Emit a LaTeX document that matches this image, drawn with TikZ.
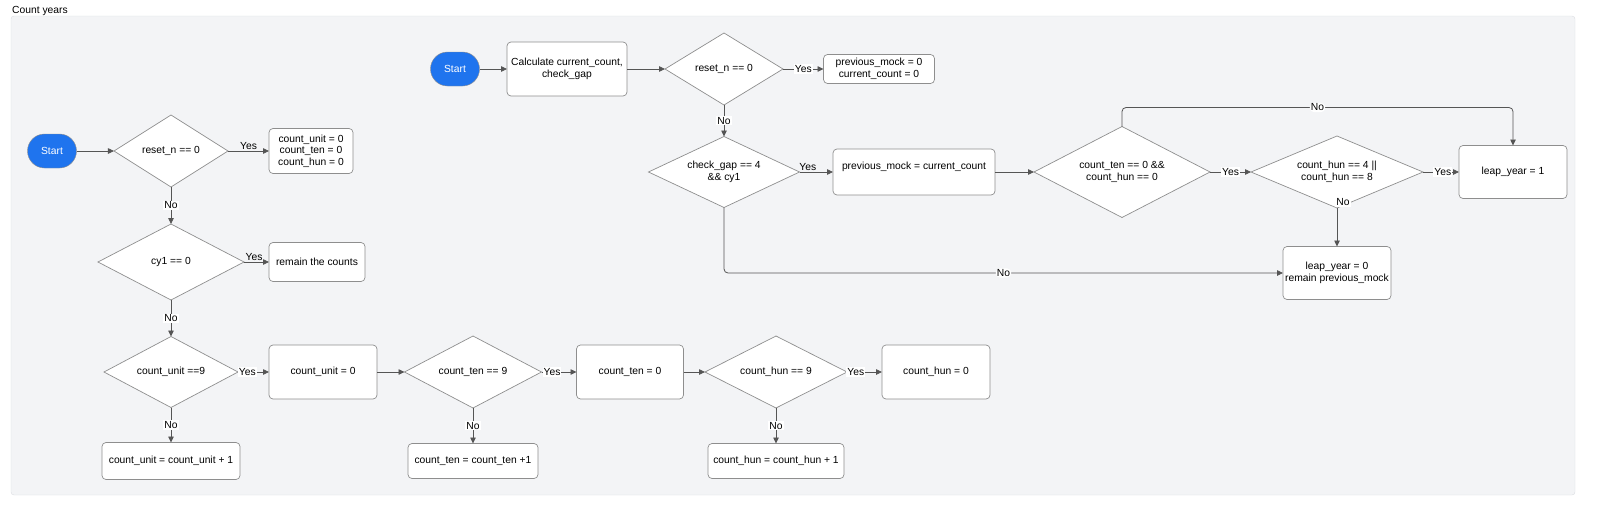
\documentclass[tikz,border=0pt]{standalone}
\usepackage{fontspec}
\setmainfont{Liberation Sans}
\usepackage{xcolor}
\usepackage{tikz}
\usetikzlibrary{shapes.geometric, arrows.meta, positioning, calc}
\definecolor{startblue}{HTML}{1F74EE}
\definecolor{boxborder}{HTML}{8E8E8E}
\definecolor{linegray}{HTML}{555555}
\definecolor{panelfill}{HTML}{F3F4F6}
\definecolor{panelborder}{HTML}{DADDE1}
\tikzstyle{terminal} = [rectangle, rounded corners=17pt, minimum width=49pt, minimum height=34pt, outer sep=0pt, text centered, draw=boxborder, fill=startblue, text=white]
\tikzstyle{process} = [rectangle, rounded corners=4pt, inner sep=2pt, outer sep=0pt, align=center, draw=boxborder, fill=white, line width=0.7pt]
\tikzstyle{decision} = [diamond, aspect=2, inner sep=0pt, outer sep=0pt, align=center, draw=boxborder, fill=white, line width=0.7pt]
\tikzstyle{arrow} = [draw=linegray, line width=0.8pt, -{Triangle[length=6pt,width=5.5pt]}]
\tikzstyle{answer} = [fill=white, inner sep=1pt, text=black]

\begin{document}
\begin{tikzpicture}[x=1pt, y=-1pt, node distance=100pt, font=\fontsize{10.3pt}{11.6pt}\selectfont]
\useasboundingbox (0,0) rectangle (1601,506);
\draw [fill=panelfill, draw=panelborder, rounded corners=3pt] (11,16) rectangle (1575,495);
\node (title) [anchor=west, inner sep=0pt] at (12,11) {Count years};

\node (startA) [terminal] at (52,151) {Start};
\node (resetA) [decision, right of=startA, xshift=19pt, minimum width=114pt, minimum height=72pt] {reset\_n == 0};
\node (initA) [process, right of=resetA, xshift=40pt, minimum width=84pt, minimum height=45pt] {count\_unit = 0\\count\_ten = 0\\count\_hun = 0};
\node (cyone) [decision, below of=resetA, yshift=-11pt, minimum width=146pt, minimum height=76pt] {cy1 == 0};
\node (remain) [process, right of=cyone, xshift=46pt, minimum width=96pt, minimum height=39pt] {remain the counts};
\node (unitnine) [decision, below of=cyone, yshift=-10pt, minimum width=134pt, minimum height=71pt] {count\_unit ==9};
\node (unitzero) [process, right of=unitnine, xshift=52pt, minimum width=108pt, minimum height=54pt] {count\_unit = 0};
\node (unitinc) [process, below of=unitnine, yshift=11pt, minimum width=138pt, minimum height=37pt] {count\_unit = count\_unit + 1};
\node (tennine) [decision, right of=unitzero, xshift=50pt, minimum width=137pt, minimum height=72pt] {count\_ten == 9};
\node (tenzero) [process, right of=tennine, xshift=57pt, minimum width=107pt, minimum height=54pt] {count\_ten = 0};
\node (teninc) [process, below of=tennine, yshift=11pt, minimum width=130pt, minimum height=35pt] {count\_ten = count\_ten +1};
\node (hunnine) [decision, right of=tenzero, xshift=46pt, minimum width=142pt, minimum height=72pt] {count\_hun == 9};
\node (hunzero) [process, right of=hunnine, xshift=60pt, minimum width=108pt, minimum height=54pt] {count\_hun = 0};
\node (huninc) [process, below of=hunnine, yshift=11pt, minimum width=136pt, minimum height=35pt] {count\_hun = count\_hun + 1};

\node (startB) [terminal] at (455,69) {Start};
\node (calc) [process, right of=startB, xshift=12pt, minimum width=120pt, minimum height=54pt] {Calculate current\_count,\\check\_gap};
\node (resetB) [decision, right of=calc, xshift=57pt, minimum width=118pt, minimum height=72pt] {reset\_n == 0};
\node (initB) [process, right of=resetB, xshift=55pt, minimum width=111pt, minimum height=29pt] {previous\_mock = 0\\current\_count = 0};
\node (checkgap) [decision, below of=resetB, yshift=-3pt, minimum width=151pt, minimum height=71pt] {check\_gap == 4\\\&\& cy1};
\node (prevmock) [process, right of=checkgap, xshift=90pt, minimum width=162pt, minimum height=46pt] {previous\_mock = current\_count\\ \mbox{}};
\node (tenhun) [decision, right of=prevmock, xshift=108pt, minimum width=176pt, minimum height=91pt] {count\_ten == 0 \&\&\\count\_hun == 0};
\node (hunfour) [decision, right of=tenhun, xshift=115pt, minimum width=172pt, minimum height=72pt] {count\_hun == 4 ||\\count\_hun == 8};
\node (leapone) [process, right of=hunfour, xshift=76pt, minimum width=108pt, minimum height=53pt] {leap\_year = 1};
\node (leapzero) [process, below of=hunfour, yshift=-1pt, minimum width=108pt, minimum height=53pt] {leap\_year = 0\\remain previous\_mock};

\draw [arrow] (startA) -- (resetA);
\draw [arrow] (resetA) -- node[answer, above, fill=none] {Yes} (initA);
\draw [arrow] (resetA) -- node[answer] {No} (cyone);
\draw [arrow] (cyone) -- node[answer, above, fill=none, pos=0.4] {Yes} (remain);
\draw [arrow] (cyone) -- node[answer] {No} (unitnine);
\draw [arrow] (unitnine) -- node[answer, pos=0.3] {Yes} (unitzero);
\draw [arrow] (unitnine) -- node[answer] {No} (unitinc);
\draw [arrow] (unitzero) -- (tennine);
\draw [arrow] (tennine) -- node[answer, pos=0.3] {Yes} (tenzero);
\draw [arrow] (tennine) -- node[answer] {No} (teninc);
\draw [arrow] (tenzero) -- (hunnine);
\draw [arrow] (hunnine) -- node[answer, pos=0.25] {Yes} (hunzero);
\draw [arrow] (hunnine) -- node[answer] {No} (huninc);

\draw [arrow] (startB) -- (calc);
\draw [arrow] (calc) -- (resetB);
\draw [arrow] (resetB) -- node[answer] {Yes} (initB);
\draw [arrow] (resetB) -- node[answer] {No} (checkgap);
\draw [arrow] (checkgap) -- node[answer, above, fill=none, pos=0.25] {Yes} (prevmock);
\draw [arrow, rounded corners=4pt] (checkgap) |- node[answer, pos=0.75] {No} (leapzero);
\draw [arrow] (prevmock) -- (tenhun);
\draw [arrow] (tenhun) -- node[answer] {Yes} (hunfour);
\draw [arrow, rounded corners=4pt] (tenhun.north) -- ++(0,-19) -| node[answer, pos=0.25] {No} (leapone.north);
\draw [arrow] (hunfour) -- node[answer, pos=0.55] {Yes} (leapone);
\draw [arrow] (hunfour) -- node[answer, pos=0, xshift=6pt, yshift=6pt] {No} (leapzero);
\end{tikzpicture}
\end{document}
